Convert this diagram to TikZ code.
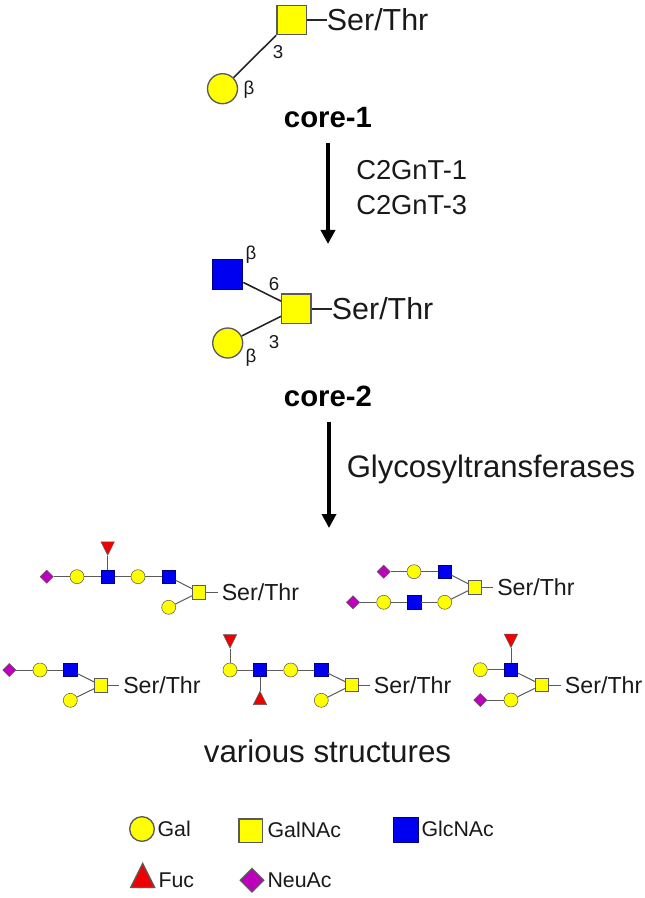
\documentclass[tikz,border=0pt]{standalone}
\usepackage{fontspec}
\usepackage{xcolor}
\setmainfont{Liberation Sans}
\usetikzlibrary{shapes.geometric, arrows.meta}

\definecolor{galyellow}{RGB}{255,255,0}
\definecolor{glcblue}{RGB}{0,0,240}
\definecolor{fucred}{RGB}{240,0,0}
\definecolor{neupurple}{RGB}{190,0,190}
\definecolor{edgegray}{RGB}{90,90,90}
\definecolor{inktext}{RGB}{25,25,25}

\tikzset{
    gal/.style={circle, draw=edgegray, fill=galyellow, inner sep=0pt, minimum size=#1},
    gal/.default=10.5pt,
    galnac/.style={rectangle, draw=edgegray, fill=galyellow, inner sep=0pt, minimum size=#1},
    galnac/.default=10pt,
    glcnac/.style={rectangle, draw=blue!50!black, fill=glcblue, inner sep=0pt, minimum size=#1},
    glcnac/.default=10pt,
    fuc/.style={isosceles triangle, isosceles triangle stretches, draw=edgegray, fill=fucred, inner sep=0pt, minimum height=#1, minimum width=#1},
    fuc/.default=10pt,
    fucdown/.style={fuc=#1, shape border rotate=270},
    fucdown/.default=10pt,
    fucup/.style={fuc=#1, shape border rotate=90},
    fucup/.default=10pt,
    neuac/.style={diamond, draw=edgegray, fill=neupurple, inner sep=0pt, minimum size=#1},
    neuac/.default=10pt,
    heavy/.style={line width=1pt},
    link/.style={draw=edgegray, line width=0.75pt},
    corelink/.style={draw=black!85, line width=1.2pt},
    serthr/.style={anchor=west, inner ysep=0pt, inner xsep=3pt, text=inktext, font=\fontsize{17.4}{20}\selectfont},
    bigserthr/.style={anchor=west, inner sep=0pt, text=inktext, font=\fontsize{22.8}{26}\selectfont},
    tiny/.style={inner sep=0pt, text=inktext, font=\fontsize{14}{16}\selectfont},
    title/.style={inner sep=0pt, text=black, font=\fontsize{22}{26}\selectfont\bfseries},
    caption/.style={inner sep=0pt, text=inktext, font=\fontsize{23.5}{28}\selectfont},
    legendtext/.style={anchor=west, inner sep=0pt, text=inktext, font=\fontsize{16}{19}\selectfont},
    reaction/.style={draw=black, line width=3pt, -{Triangle[length=10.5pt, width=10.5pt]}},
}

\begin{document}
\begin{tikzpicture}[x=0.75pt, y=-0.75pt]
    \useasboundingbox (0, 0) rectangle (644, 898);

    % core-1
    \node[galnac=22pt, heavy] (ca) at (291.5, 20) {};
    \node[gal=22.5pt, heavy] (cb) at (222.5, 88.7) {};
    \node[bigserthr] (cs) at (326.7, 20) {Ser/Thr};
    \node[tiny] (cn) at (278, 52) {3};
    \node[tiny] (cg) at (249, 90) {β};
    \node[title] (cone) at (328, 118) {core-1};
    \draw[corelink] (ca) -- (cb);
    \draw[corelink] (ca) -- (cs);

    % first step
    \coordinate (ra) at (328, 143);
    \coordinate (rb) at (328, 244);
    \draw[reaction] (ra) -- (rb);
    \node[anchor=west, inner sep=0pt, text=inktext, font=\fontsize{20.5}{24}\selectfont] (ea) at (356, 170) {C2GnT-1};
    \node[anchor=west, inner sep=0pt, text=inktext, font=\fontsize{20.5}{24}\selectfont] (eb) at (356, 205) {C2GnT-3};

    % core-2
    \node[glcnac=22.5pt, heavy] (da) at (227.7, 274.7) {};
    \node[galnac=22pt, heavy] (db) at (296.3, 308.7) {};
    \node[gal=22.5pt, heavy] (dc) at (227.7, 343) {};
    \node[bigserthr] (ds) at (331.7, 308.7) {Ser/Thr};
    \node[tiny] (dn) at (274, 284) {6};
    \node[tiny] (dm) at (274, 341.7) {3};
    \node[tiny] (dg) at (251, 255) {β};
    \node[tiny] (dh) at (251, 358) {β};
    \node[title] (ctwo) at (328, 396) {core-2};
    \draw[corelink] (da) -- (db);
    \draw[corelink] (dc) -- (db);
    \draw[corelink] (db) -- (ds);

    % second step
    \coordinate (rc) at (329, 422);
    \coordinate (rd) at (329, 528);
    \draw[reaction] (rc) -- (rd);
    \node[anchor=base west, inner sep=0pt, text=inktext, font=\fontsize{23.3}{28}\selectfont] (ec) at (346.5, 477.3) {Glycosyltransferases};

    % upper left structure
    \node[neuac] (a1) at (46.7, 576.7) {};
    \node[gal] (a2) at (77, 576.7) {};
    \node[glcnac] (a3) at (107.7, 576.7) {};
    \node[fucdown] (a4) at (107.7, 546) {};
    \node[gal] (a5) at (138, 576.7) {};
    \node[glcnac] (a6) at (168.7, 576.7) {};
    \node[galnac] (a7) at (199, 592.3) {};
    \node[gal] (a8) at (168.7, 607.3) {};
    \node[serthr] (as) at (217.5, 592.3) {Ser/Thr};
    \draw[link] (a1) -- (a2);
    \draw[link] (a2) -- (a3);
    \draw[link] (a3) -- (a4);
    \draw[link] (a3) -- (a5);
    \draw[link] (a5) -- (a6);
    \draw[link] (a6) -- (a7);
    \draw[link] (a8) -- (a7);
    \draw[link] (a7) -- (as);

    % upper right structure
    \node[neuac] (b1) at (383.7, 571.7) {};
    \node[gal] (b2) at (414, 571.7) {};
    \node[glcnac] (b3) at (444.7, 571.7) {};
    \node[galnac] (b4) at (475, 587.3) {};
    \node[neuac] (b5) at (353, 602.3) {};
    \node[gal] (b6) at (383.7, 602.3) {};
    \node[glcnac] (b7) at (414.3, 602.3) {};
    \node[gal] (b8) at (444.7, 602.3) {};
    \node[serthr] (bs) at (493, 587.3) {Ser/Thr};
    \draw[link] (b1) -- (b2);
    \draw[link] (b2) -- (b3);
    \draw[link] (b3) -- (b4);
    \draw[link] (b5) -- (b6);
    \draw[link] (b6) -- (b7);
    \draw[link] (b7) -- (b8);
    \draw[link] (b8) -- (b4);
    \draw[link] (b4) -- (bs);

    % lower left structure
    \node[neuac] (f1) at (9.3, 670) {};
    \node[gal] (f2) at (40, 670) {};
    \node[glcnac] (f3) at (70.3, 670) {};
    \node[galnac] (f4) at (101, 685.3) {};
    \node[gal] (f5) at (70.3, 700.3) {};
    \node[serthr] (fs) at (119, 685.3) {Ser/Thr};
    \draw[link] (f1) -- (f2);
    \draw[link] (f2) -- (f3);
    \draw[link] (f3) -- (f4);
    \draw[link] (f5) -- (f4);
    \draw[link] (f4) -- (fs);

    % lower middle structure
    \node[fucdown] (g1) at (230, 638.7) {};
    \node[gal] (g2) at (230, 670) {};
    \node[glcnac] (g3) at (260, 670) {};
    \node[fucup] (g4) at (260, 700.5) {};
    \node[gal] (g5) at (290.7, 670) {};
    \node[glcnac] (g6) at (321.3, 670) {};
    \node[galnac] (g7) at (352, 685) {};
    \node[gal] (g8) at (321.3, 700.3) {};
    \node[serthr] (gs) at (369.7, 685) {Ser/Thr};
    \draw[link] (g1) -- (g2);
    \draw[link] (g2) -- (g3);
    \draw[link] (g3) -- (g4);
    \draw[link] (g3) -- (g5);
    \draw[link] (g5) -- (g6);
    \draw[link] (g6) -- (g7);
    \draw[link] (g8) -- (g7);
    \draw[link] (g7) -- (gs);

    % lower right structure
    \node[fucdown] (h1) at (511, 638.3) {};
    \node[glcnac] (h2) at (511, 669.7) {};
    \node[gal] (h3) at (480.3, 669.7) {};
    \node[galnac] (h4) at (541.7, 685) {};
    \node[gal] (h5) at (511, 700) {};
    \node[neuac] (h6) at (480.3, 700) {};
    \node[serthr] (hs) at (560.7, 685) {Ser/Thr};
    \draw[link] (h1) -- (h2);
    \draw[link] (h3) -- (h2);
    \draw[link] (h2) -- (h4);
    \draw[link] (h5) -- (h4);
    \draw[link] (h6) -- (h5);
    \draw[link] (h4) -- (hs);

    \node[caption] (vs) at (327.5, 751) {various structures};

    % legend
    \node[gal=18.5pt, heavy] (lgal) at (142, 829) {};
    \node[legendtext] (tgal) at (157.3, 829) {Gal};
    \node[galnac=17.5pt, heavy] (lgalnac) at (250.7, 830.5) {};
    \node[legendtext] (tgalnac) at (267.3, 830) {GalNAc};
    \node[glcnac=18.8pt, heavy] (lglcnac) at (406, 830) {};
    \node[legendtext] (tglcnac) at (421.3, 829) {GlcNAc};
    \node[fucup=18pt, heavy] (lfuc) at (142.7, 880) {};
    \node[legendtext] (tfuc) at (158.3, 880) {Fuc};
    \node[neuac=18pt, heavy] (lneuac) at (252, 880.3) {};
    \node[legendtext] (tneuac) at (267.3, 880) {NeuAc};
\end{tikzpicture}
\end{document}
